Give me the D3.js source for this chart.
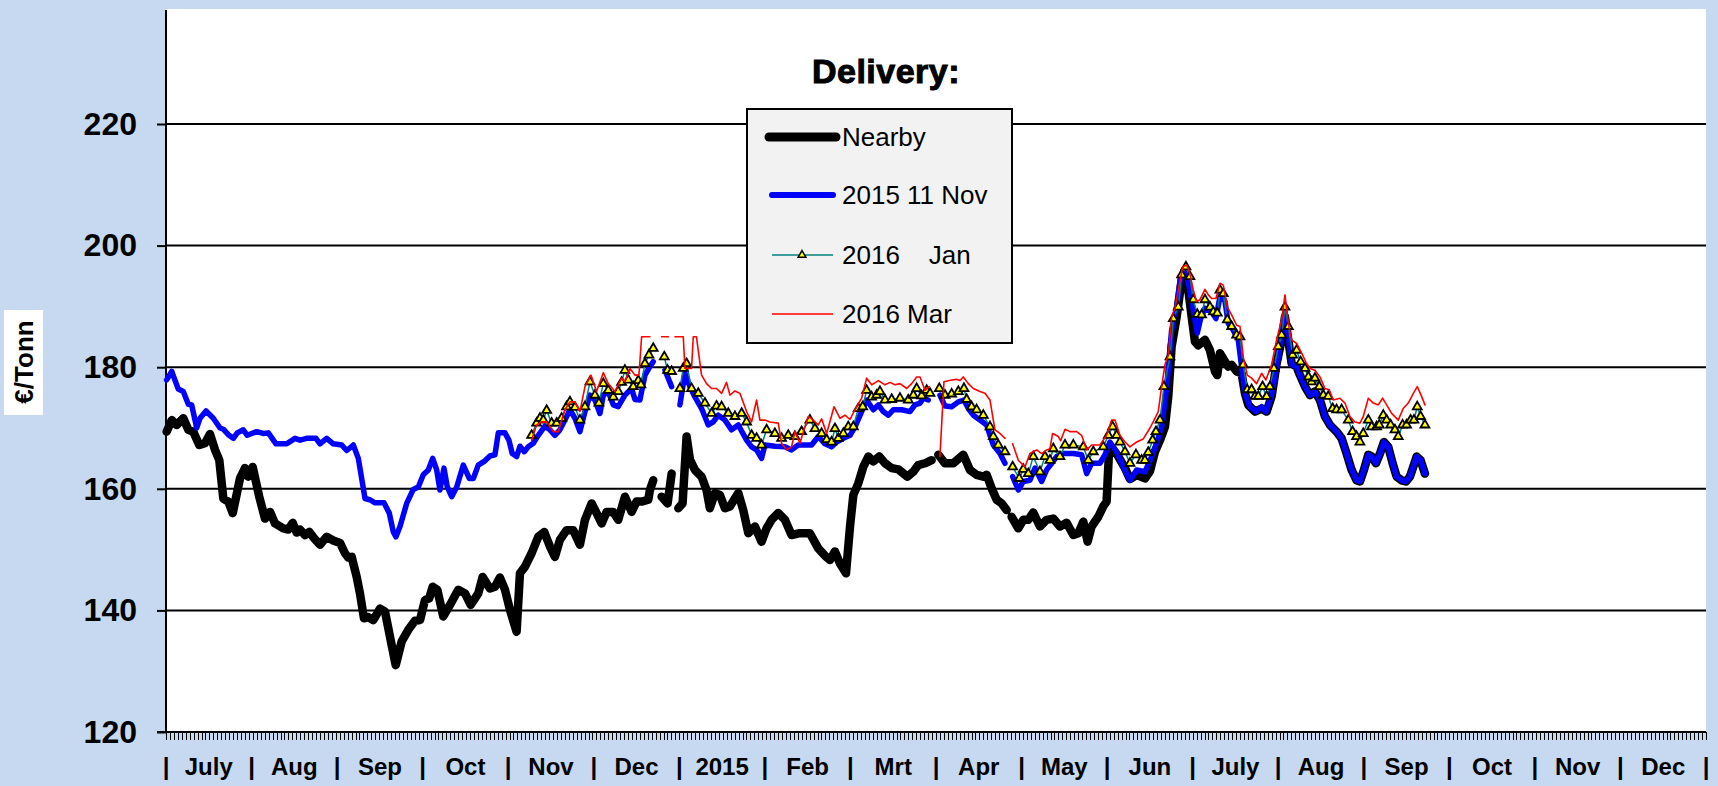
<!DOCTYPE html>
<html>
<head>
<meta charset="utf-8">
<script src="https://cdn.jsdelivr.net/npm/d3@7"></script>
<style>
  body { margin: 0; background: #C6D9F0; }
  svg { display: block; font-family: "Liberation Sans", Arial, sans-serif; }
</style>
</head>
<body>
<div id="chart"></div>
<script>
// x values are month positions (0 = start of July 2014), y values in EUR/tonne; null = gap
const months = ["July", "Aug", "Sep", "Oct", "Nov", "Dec", "2015", "Feb", "Mrt", "Apr", "May", "Jun",
                "July", "Aug", "Sep", "Oct", "Nov", "Dec"];
const yTicks = [120, 140, 160, 180, 200, 220];

const nearby = [[0.008,169.4],[0.067,171.3],[0.125,170.5],[0.202,171.6],[0.261,169.7],[0.319,169.4],[0.389,167.2],[0.456,167.5],[0.514,169.0],[0.573,166.4],[0.623,164.7],[0.670,158.4],[0.728,157.9],[0.780,156.0],[0.865,161.7],[0.923,163.4],[0.962,162.0],[1.013,163.6],[1.090,158.7],[1.157,155.1],[1.216,156.2],[1.274,154.3],[1.371,153.5],[1.429,153.3],[1.481,154.4],[1.528,152.8],[1.566,153.3],[1.625,152.4],[1.675,152.9],[1.730,151.9],[1.800,150.8],[1.878,152.1],[1.955,151.5],[2.034,151.1],[2.092,149.4],[2.131,148.7],[2.170,148.8],[2.229,145.5],[2.267,142.8],[2.314,138.7],[2.364,138.9],[2.423,138.4],[2.501,140.3],[2.560,139.8],[2.626,135.1],[2.685,131.0],[2.755,134.9],[2.832,136.8],[2.910,138.3],[2.969,138.4],[3.027,141.7],[3.077,142.0],[3.117,143.9],[3.171,143.4],[3.241,139.0],[3.319,140.9],[3.416,143.4],[3.495,142.8],[3.561,140.9],[3.650,142.8],[3.701,145.5],[3.786,143.6],[3.845,143.9],[3.903,145.4],[3.962,143.4],[4.020,140.1],[4.098,136.5],[4.137,146.1],[4.196,147.2],[4.273,149.4],[4.351,152.1],[4.421,152.9],[4.488,150.5],[4.546,148.8],[4.604,151.6],[4.682,153.2],[4.760,153.2],[4.838,150.8],[4.897,154.9],[4.975,157.6],[5.033,156.0],[5.092,154.3],[5.150,156.2],[5.228,156.2],[5.286,154.9],[5.364,158.7],[5.442,156.2],[5.500,157.9],[5.559,157.9],[5.637,158.2],[5.656,159.8],[5.695,161.4],null,[5.793,158.7],[5.863,157.6],[5.910,162.5],null,[5.988,156.8],[6.038,157.6],[6.085,168.6],[6.124,164.8],[6.182,163.1],[6.260,162.0],[6.318,159.8],[6.357,156.8],[6.416,159.3],[6.474,159.0],[6.533,156.8],[6.591,157.1],[6.689,159.3],[6.747,156.5],[6.806,152.7],[6.884,153.8],[6.961,151.3],[7.020,153.5],[7.078,154.9],[7.156,156.0],[7.234,154.9],[7.312,152.4],[7.410,152.7],[7.526,152.7],[7.624,150.2],[7.702,149.0],[7.761,148.3],[7.819,149.7],[7.878,147.7],[7.948,146.1],[7.995,153.8],[8.034,159.0],[8.092,160.9],[8.150,163.6],[8.209,165.3],[8.267,164.5],[8.337,165.3],[8.404,164.2],[8.482,163.4],[8.560,163.2],[8.665,162.0],[8.735,162.8],[8.793,163.9],[8.871,164.2],[8.949,164.7],null,[9.027,165.6],[9.105,164.2],[9.202,164.2],[9.319,165.6],[9.397,163.1],[9.475,162.3],[9.553,162.0],[9.592,162.3],[9.650,160.1],[9.709,158.2],[9.767,157.6],[9.826,156.5],null,[9.884,155.4],[9.962,153.5],[10.020,154.9],[10.079,154.9],[10.137,156.1],[10.215,153.8],[10.293,154.9],[10.371,155.1],[10.449,153.8],[10.527,154.4],[10.605,152.4],[10.663,152.7],[10.722,154.6],[10.772,151.3],[10.819,153.8],[10.897,155.4],[10.955,157.1],[10.994,157.9],[11.025,166.9],[11.064,166.6],[11.131,165.3],[11.209,163.4],[11.267,161.6],[11.345,162.3],[11.442,161.7],[11.501,162.9],[11.559,166.1],[11.618,168.0],[11.676,170.2],[11.715,175.2],[11.754,183.4],[11.813,188.3],[11.871,194.3],[11.910,196.0],[11.949,192.7],[11.988,188.3],[12.027,184.2],[12.066,183.6],[12.144,184.5],[12.202,182.8],[12.261,179.3],[12.288,178.7],[12.319,182.3],[12.378,180.9],[12.416,180.1],[12.455,180.4],[12.514,179.3],[12.572,179.0],[12.611,175.7],[12.650,173.8],[12.728,172.7],[12.806,173.2],[12.864,172.7],[12.923,175.2],[12.981,180.6],[13.040,184.5],[13.079,188.3],[13.118,184.5],[13.157,180.6],[13.215,180.1],[13.254,178.7],[13.313,176.8],[13.371,175.4],[13.429,176.0],[13.488,174.6],[13.546,171.9],[13.604,170.5],[13.682,169.4],[13.741,168.3],[13.799,165.8],[13.858,163.1],[13.916,161.4],[13.955,161.2],[14.002,163.1],[14.053,165.6],[14.092,165.3],[14.142,164.2],[14.189,165.8],[14.236,167.7],[14.286,166.9],[14.337,164.2],[14.384,162.0],[14.442,161.4],[14.493,161.2],[14.540,162.0],[14.618,165.3],[14.664,164.7],[14.715,162.5]];

const nov2015 = [[0.008,177.9],[0.067,179.3],[0.144,176.4],[0.202,176.0],[0.261,173.9],[0.300,173.8],[0.359,170.0],[0.397,171.6],[0.468,172.8],[0.553,171.6],[0.631,170.0],[0.670,169.8],[0.728,168.9],[0.787,168.3],[0.833,169.2],[0.903,169.7],[0.950,168.8],[1.060,169.4],[1.137,169.1],[1.196,169.2],[1.286,167.4],[1.411,167.4],[1.508,168.3],[1.566,168.0],[1.644,168.3],[1.753,168.3],[1.800,167.4],[1.878,168.3],[1.955,167.4],[2.054,167.2],[2.112,166.3],[2.189,167.2],[2.248,165.0],[2.326,158.4],[2.384,158.2],[2.443,157.7],[2.548,157.7],[2.610,156.0],[2.657,152.9],[2.688,152.1],[2.735,153.8],[2.813,157.6],[2.890,159.9],[2.949,160.3],[3.007,162.3],[3.066,163.1],[3.117,165.0],[3.164,163.1],[3.202,159.8],[3.249,163.4],[3.288,160.3],[3.339,158.7],[3.398,160.3],[3.475,163.9],[3.545,161.7],[3.592,161.7],[3.650,163.9],[3.728,164.6],[3.786,165.4],[3.845,165.6],[3.884,169.2],[3.962,169.2],[4.008,168.0],[4.047,165.8],[4.098,165.3],[4.137,167.0],[4.188,166.1],[4.234,166.9],[4.293,167.5],[4.351,168.8],[4.429,170.3],[4.488,169.7],[4.546,168.8],[4.604,169.7],[4.663,171.3],[4.721,173.0],[4.780,171.6],[4.838,169.4],[4.897,172.7],[4.955,175.4],[5.013,174.6],[5.072,172.4],[5.111,175.4],[5.169,176.0],[5.228,173.8],[5.286,173.5],[5.364,175.4],[5.442,176.5],[5.481,174.7],[5.539,174.6],[5.598,178.7],[5.656,180.1],[5.695,180.9],null,[5.832,179.5],[5.910,176.8],null,[6.007,173.8],[6.065,179.0],[6.124,176.8],[6.182,175.1],[6.260,173.2],[6.338,170.5],[6.396,171.0],[6.455,172.1],[6.533,171.3],[6.611,169.7],[6.689,170.5],[6.786,168.0],[6.845,166.9],[6.903,166.4],[6.961,165.0],[7.000,167.2],[7.117,167.0],[7.234,166.9],[7.312,166.4],[7.390,167.2],[7.546,167.2],[7.624,168.6],[7.702,167.4],[7.780,166.9],[7.839,167.7],[7.917,168.3],[7.995,168.8],[8.053,170.2],[8.131,172.7],[8.189,174.6],[8.267,173.0],[8.326,173.8],[8.384,172.7],[8.443,172.1],[8.501,173.0],[8.598,173.0],[8.696,172.7],[8.754,173.8],[8.813,174.1],[8.852,174.9],[8.910,174.6],null,[9.046,175.4],[9.105,173.6],[9.183,173.5],[9.261,174.3],[9.327,174.6],[9.378,173.2],[9.436,172.1],[9.514,171.3],[9.592,170.5],[9.631,168.8],[9.670,167.2],[9.748,165.8],[9.806,164.2],null,[9.896,162.0],[9.962,159.8],[10.020,161.2],[10.098,161.4],[10.157,163.4],[10.235,161.2],[10.293,163.1],[10.352,164.2],[10.410,165.3],[10.488,165.8],[10.605,165.8],[10.702,165.6],[10.761,162.5],[10.819,164.2],[10.916,164.2],[10.975,165.6],[11.033,167.7],[11.111,166.1],[11.189,163.6],[11.267,161.4],[11.345,163.1],[11.442,162.8],[11.520,165.3],[11.579,167.5],[11.637,170.2],[11.696,176.8],[11.754,186.1],[11.813,189.9],[11.859,194.9],[11.910,196.3],[11.960,193.2],[12.007,189.4],[12.054,185.6],[12.093,188.0],[12.144,189.7],[12.222,189.1],[12.272,188.0],[12.327,192.2],[12.378,190.8],[12.416,187.2],[12.474,186.1],[12.533,184.5],[12.572,180.1],[12.611,175.7],[12.669,173.5],[12.740,172.7],[12.806,173.5],[12.856,172.7],[12.923,175.4],[12.981,180.1],[13.040,185.0],[13.079,189.1],[13.118,185.0],[13.157,180.4],[13.215,180.1],[13.254,178.7],[13.313,176.8],[13.371,175.4],[13.429,176.0],[13.488,174.6],[13.546,171.9],[13.604,170.5],[13.682,169.4],[13.741,168.3],[13.799,165.8],[13.858,163.1],[13.916,161.4],[13.955,161.2],[14.002,163.1],[14.053,165.6],[14.092,165.3],[14.142,164.2],[14.189,165.8],[14.236,167.7],[14.286,166.9],[14.337,164.2],[14.384,162.0],[14.442,161.4],[14.493,161.2],[14.540,162.0],[14.618,165.3],[14.664,164.7],[14.715,162.5]];

const jan2016 = [[4.273,168.8],[4.332,170.8],[4.371,171.6],[4.410,171.3],[4.449,172.9],[4.507,170.8],[4.566,170.8],[4.624,171.6],[4.682,173.5],[4.721,174.3],[4.780,173.4],[4.838,171.3],[4.897,173.5],[4.955,177.6],[5.013,175.4],[5.060,174.1],[5.111,177.3],[5.169,176.2],[5.228,175.1],[5.286,176.0],[5.325,177.5],[5.364,179.5],[5.403,177.9],[5.461,176.8],[5.520,177.8],[5.551,177.1],[5.598,180.6],[5.645,182.0],[5.695,183.1],null,[5.824,181.7],[5.863,179.5],[5.910,179.3],null,[6.007,176.5],[6.046,179.8],[6.085,180.6],[6.143,176.5],[6.221,175.7],[6.299,174.1],[6.377,172.4],[6.435,173.6],[6.494,173.5],[6.572,172.4],[6.650,171.9],[6.728,172.4],[6.786,171.0],[6.845,168.8],[6.903,168.3],[6.961,167.2],[7.020,169.7],[7.117,169.1],[7.195,168.3],[7.273,168.8],[7.351,168.6],[7.429,169.4],[7.526,171.3],[7.585,169.9],[7.663,169.1],[7.722,168.1],[7.780,167.7],[7.819,169.9],[7.858,168.3],[7.917,169.1],[7.975,170.2],[8.034,170.2],[8.092,173.2],[8.143,173.5],[8.189,176.2],[8.248,175.1],[8.306,175.4],[8.345,176.0],[8.404,174.6],[8.482,174.7],[8.579,174.9],[8.676,174.6],[8.735,175.4],[8.774,176.5],[8.832,175.3],[8.891,176.2],[8.930,175.7],null,[9.039,176.5],[9.105,175.4],[9.183,175.6],[9.261,176.0],[9.327,176.5],[9.358,174.7],[9.416,173.5],[9.475,173.0],[9.553,172.1],[9.631,170.2],[9.670,168.6],[9.728,167.2],[9.806,166.1],null,[9.896,163.6],[9.973,161.7],[10.020,163.2],[10.079,162.5],[10.137,165.3],[10.215,162.8],[10.274,165.3],[10.332,164.7],[10.371,166.6],[10.449,165.3],[10.508,167.2],[10.605,167.2],[10.722,166.9],[10.780,164.7],[10.839,166.1],[10.955,166.9],[11.014,168.8],[11.064,170.2],[11.111,168.8],[11.150,167.7],[11.209,166.1],[11.267,164.2],[11.337,165.6],[11.403,164.7],[11.442,164.7],[11.481,166.0],[11.532,168.0],[11.571,169.4],[11.618,171.3],[11.664,176.8],[11.735,181.7],[11.774,188.0],[11.832,189.9],[11.871,195.2],[11.921,196.5],[11.968,194.9],[12.007,191.1],[12.054,188.7],[12.105,188.6],[12.144,191.1],[12.202,189.9],[12.241,189.1],[12.288,188.9],[12.319,192.7],[12.358,192.1],[12.405,187.8],[12.455,186.7],[12.514,185.3],[12.553,185.0],[12.591,180.4],[12.638,176.3],[12.689,176.3],[12.728,175.2],[12.767,175.2],[12.817,176.8],[12.864,175.2],[12.903,176.8],[12.950,179.8],[13.001,183.4],[13.040,185.3],[13.079,189.9],[13.118,186.7],[13.168,182.0],[13.215,182.8],[13.262,180.9],[13.313,179.8],[13.352,178.4],[13.390,177.6],[13.429,178.2],[13.480,176.8],[13.527,175.4],[13.585,175.2],[13.636,173.2],[13.682,173.0],[13.741,173.0],[13.819,171.3],[13.869,169.4],[13.916,168.6],[13.955,167.7],[13.994,169.1],[14.053,171.3],[14.092,170.2],[14.150,170.2],[14.181,170.5],[14.228,172.1],[14.267,171.3],[14.314,170.5],[14.364,169.7],[14.403,168.6],[14.454,170.5],[14.500,170.5],[14.547,171.3],[14.586,171.3],[14.625,173.5],[14.664,171.9],[14.715,170.5]];

const mar2016 = [[4.273,168.0],[4.332,170.5],[4.390,171.0],[4.449,171.0],[4.527,169.4],[4.585,169.4],[4.663,173.0],[4.721,174.3],[4.780,174.3],[4.838,172.7],[4.897,176.8],[4.967,178.7],[5.033,176.0],[5.111,179.1],[5.169,177.3],[5.247,176.0],[5.325,178.2],[5.364,177.6],[5.423,179.8],[5.481,178.7],[5.528,178.7],[5.559,185.0],[5.656,185.0],null,[5.793,185.0],[5.871,185.0],null,[5.949,185.0],[6.046,185.0],[6.065,179.8],[6.143,179.8],[6.163,185.0],[6.200,185.0],[6.260,178.7],[6.318,177.3],[6.377,176.5],[6.435,176.5],[6.494,175.7],[6.552,177.5],[6.591,175.4],[6.650,176.1],[6.708,175.7],[6.786,172.7],[6.845,171.0],[6.903,174.6],[6.942,171.3],[7.000,171.3],[7.059,171.0],[7.156,170.8],[7.195,167.5],[7.253,166.4],[7.312,166.9],[7.351,169.4],[7.410,167.5],[7.468,170.2],[7.507,171.9],[7.565,171.3],[7.624,170.5],[7.663,171.5],[7.722,169.1],[7.808,173.5],[7.878,171.6],[7.936,172.1],[7.995,171.4],[8.053,173.0],[8.131,174.9],[8.189,178.2],[8.248,177.1],[8.326,177.8],[8.404,177.1],[8.462,177.5],[8.521,177.1],[8.579,177.3],[8.657,176.5],[8.715,177.3],[8.774,178.4],[8.813,178.4],[8.871,176.2],[8.922,176.8],null,[9.046,165.3],[9.093,177.6],[9.183,177.9],[9.241,178.0],[9.280,177.8],[9.319,178.4],[9.378,177.3],[9.436,176.5],[9.514,176.0],[9.573,175.7],[9.631,174.6],[9.689,169.7],[9.748,169.1],[9.806,168.3],null,[9.896,167.4],[9.962,164.7],[10.040,163.6],[10.098,165.8],[10.176,166.4],[10.235,165.8],[10.293,166.4],[10.332,166.6],[10.363,169.1],[10.430,168.6],[10.457,167.9],[10.508,169.8],[10.566,169.4],[10.644,169.4],[10.702,168.8],[10.761,166.4],[10.819,167.2],[10.916,167.2],[10.994,168.8],[11.053,171.3],[11.092,171.3],[11.150,168.8],[11.209,167.7],[11.267,166.9],[11.345,167.7],[11.423,168.2],[11.501,170.0],[11.559,171.6],[11.598,172.7],[11.637,176.8],[11.676,180.4],[11.715,182.0],[11.754,188.3],[11.793,189.7],[11.832,192.7],[11.883,196.5],[11.930,196.8],[11.968,195.4],[12.007,192.7],[12.046,190.8],[12.085,191.1],[12.144,192.8],[12.183,191.9],[12.222,191.3],[12.272,191.3],[12.319,193.8],[12.358,193.5],[12.405,189.9],[12.455,188.6],[12.514,186.9],[12.553,186.7],[12.591,181.7],[12.638,178.7],[12.689,178.2],[12.747,177.3],[12.806,179.0],[12.856,177.9],[12.923,180.4],[12.981,184.5],[13.040,187.8],[13.079,191.9],[13.118,187.2],[13.157,184.5],[13.215,183.9],[13.274,182.3],[13.332,180.6],[13.371,179.8],[13.429,179.5],[13.488,178.4],[13.546,176.5],[13.597,176.3],[13.643,174.6],[13.721,174.9],[13.780,174.1],[13.838,171.9],[13.897,171.0],[13.955,170.8],[13.994,171.9],[14.053,174.9],[14.111,174.1],[14.170,173.8],[14.220,174.9],[14.267,173.8],[14.326,172.4],[14.403,171.3],[14.461,173.2],[14.520,174.1],[14.579,175.7],[14.625,176.8],[14.676,175.2],[14.715,173.8]];

const legendItems = ["Nearby", "2015 11 Nov", "2016    Jan", "2016 Mar"];

const width = 1718, height = 786;
const plotLeft = 166, plotRight = 1706, plotTop = 9, plotBottom = 732;

const svg = d3.select("#chart").append("svg")
  .attr("width", width)
  .attr("height", height);

const x = d3.scaleLinear().domain([0, months.length]).range([plotLeft, plotRight]);
const y = d3.scaleLinear().domain([120, 220]).range([plotBottom, 124]);
// one category per trading day, only used for the dense tick row
const xDays = d3.scaleLinear().domain([0, 390]).range([plotLeft, plotRight]);

// plot area
svg.append("rect")
  .attr("x", plotLeft).attr("y", plotTop)
  .attr("width", plotRight - plotLeft).attr("height", plotBottom - plotTop)
  .attr("fill", "#fff");

// gridlines
svg.append("g")
  .selectAll("line")
  .data(yTicks.slice(1))
  .enter().append("line")
  .attr("x1", plotLeft).attr("x2", plotRight)
  .attr("y1", d => y(d)).attr("y2", d => y(d))
  .attr("stroke", "#000")
  .attr("stroke-width", 2);

// y axis
const yAxis = svg.append("g")
  .attr("transform", `translate(${plotLeft},0)`)
  .call(d3.axisLeft(y).tickValues(yTicks).tickSize(9).tickPadding(20));
yAxis.select(".domain").remove();
yAxis.selectAll(".tick line").attr("stroke", "#000").attr("stroke-width", 2);
yAxis.selectAll(".tick text")
  .attr("fill", "#000")
  .style("font-size", "32px")
  .style("font-weight", "bold")
  .style("font-family", "'Liberation Sans', Arial, sans-serif");

svg.append("line")
  .attr("x1", plotLeft).attr("x2", plotLeft)
  .attr("y1", plotTop + 1).attr("y2", plotBottom)
  .attr("stroke", "#000").attr("stroke-width", 2);

// x axis: a tick for every trading day
const xAxis = svg.append("g")
  .attr("transform", `translate(0,${plotBottom})`)
  .call(d3.axisBottom(xDays).tickValues(d3.range(0, 391)).tickSize(8).tickSizeOuter(0).tickFormat(""));
xAxis.select(".domain").remove();
xAxis.selectAll(".tick line")
  .attr("stroke", "#000")
  .attr("stroke-width", 1)
  .attr("shape-rendering", "crispEdges");

svg.append("line")
  .attr("x1", plotLeft - 9).attr("x2", plotRight)
  .attr("y1", plotBottom).attr("y2", plotBottom)
  .attr("stroke", "#000").attr("stroke-width", 2);

const xLabels = svg.append("g")
  .style("font-size", "24px")
  .style("font-weight", "bold");

xLabels.selectAll("text.sep")
  .data(d3.range(months.length + 1))
  .enter().append("text")
  .attr("class", "sep")
  .attr("x", d => x(d))
  .attr("y", 775)
  .attr("text-anchor", "middle")
  .text("|");

xLabels.selectAll("text.month")
  .data(months)
  .enter().append("text")
  .attr("class", "month")
  .attr("x", (d, i) => x(i + 0.5))
  .attr("y", 775)
  .attr("text-anchor", "middle")
  .text(d => d);

// y axis title
svg.append("rect")
  .attr("x", 4).attr("y", 310)
  .attr("width", 39).attr("height", 105)
  .attr("fill", "#fff");
svg.append("text")
  .attr("transform", "translate(24,362) rotate(-90)")
  .attr("text-anchor", "middle")
  .attr("dy", "0.35em")
  .style("font-size", "26px")
  .style("font-weight", "bold")
  .text("€/Tonn");

// series
const line = d3.line()
  .defined(d => d !== null)
  .x(d => x(d[0]))
  .y(d => y(d[1]));

const series = [
  { data: nearby, color: "#000", width: 8.5 },
  { data: nov2015, color: "#0000FF", width: 5.5 },
  { data: jan2016, color: "#008080", width: 1.5 },
  { data: mar2016, color: "#FF0000", width: 1.6 }
];

const triangle = d3.symbol(d3.symbolTriangle, 34);

series.forEach((s, i) => {
  svg.append("path")
    .datum(s.data)
    .attr("d", line)
    .attr("fill", "none")
    .attr("stroke", s.color)
    .attr("stroke-width", s.width)
    .attr("stroke-linejoin", "round")
    .attr("stroke-linecap", "round");

  if (s.data === jan2016) {
    svg.append("g")
      .selectAll("path")
      .data(jan2016.filter(d => d !== null))
      .enter().append("path")
      .attr("d", triangle)
      .attr("transform", d => `translate(${x(d[0])},${y(d[1])})`)
      .attr("fill", "#FFFF00")
      .attr("stroke", "#000")
      .attr("stroke-width", 1.8);
  }
});

// legend
svg.append("text")
  .attr("x", 886).attr("y", 83)
  .attr("text-anchor", "middle")
  .attr("stroke", "#000").attr("stroke-width", 1)
  .style("font-size", "34px")
  .style("font-weight", "bold")
  .style("letter-spacing", "0.5px")
  .text("Delivery:");

const legend = svg.append("g");
legend.append("rect")
  .attr("x", 747).attr("y", 109)
  .attr("width", 265).attr("height", 234)
  .attr("fill", "#F2F2F2")
  .attr("stroke", "#000")
  .attr("stroke-width", 2);

const legendY = [137, 195, 255, 314];
legendItems.forEach((label, i) => {
  const s = series[i];
  legend.append("line")
    .attr("x1", i === 0 ? 769 : 772).attr("x2", i === 0 ? 836 : 833)
    .attr("y1", legendY[i]).attr("y2", legendY[i])
    .attr("stroke", s.color)
    .attr("stroke-width", i === 0 ? 9 : i === 1 ? 6 : s.width)
    .attr("stroke-linecap", i < 2 ? "round" : "butt");
  if (i === 2) {
    legend.append("path")
      .attr("d", d3.symbol(d3.symbolTriangle, 26))
      .attr("transform", `translate(802,${legendY[i]})`)
      .attr("fill", "#FFFF00")
      .attr("stroke", "#000")
      .attr("stroke-width", 1.5);
  }
  legend.append("text")
    .attr("x", 842)
    .attr("y", legendY[i])
    .attr("dy", "0.36em")
    .style("font-size", "26px")
    .style("white-space", "pre")
    .text(label);
});
</script>
</body>
</html>
